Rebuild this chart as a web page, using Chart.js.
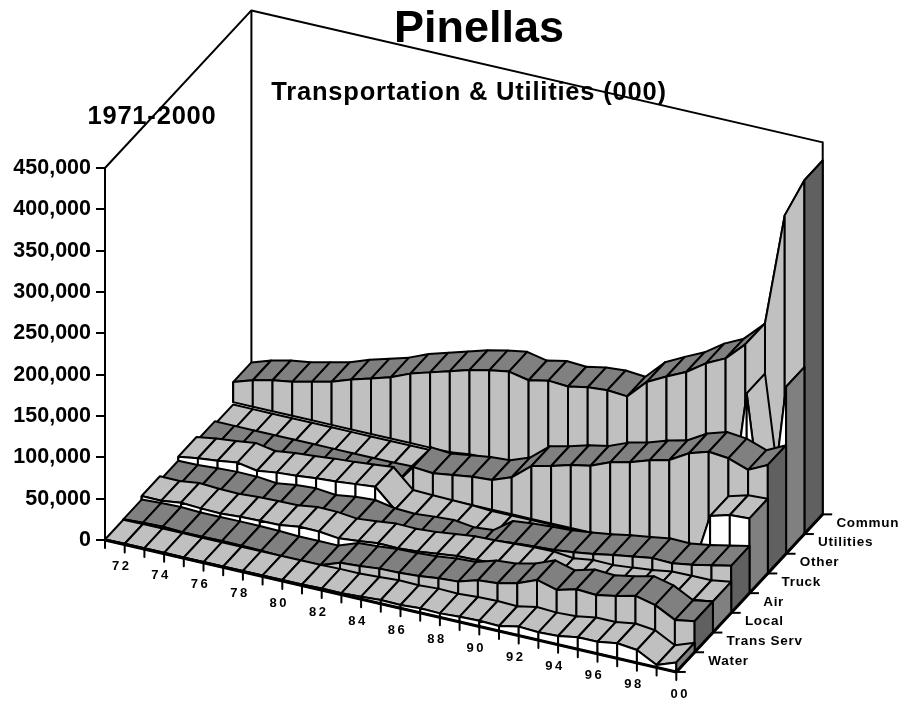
<!DOCTYPE html>
<html>
<head>
<meta charset="utf-8">
<title>Pinellas</title>
<script src="https://cdn.jsdelivr.net/npm/chart.js@4/dist/chart.umd.min.js"></script>
<style>
body { margin: 0; background: #fff; }
canvas { display: block; }
</style>
</head>
<body>
<canvas id="myChart" width="903" height="707"></canvas>
<script>
var years = ['71','72','73','74','75','76','77','78','79','80','81','82','83','84','85','86','87','88','89','90','91','92','93','94','95','96','97','98','99','00'];
var categories = ['Water','Trans Serv','Local','Air','Truck','Other','Utilities','Commun'];
var yTicks = [0,50000,100000,150000,200000,250000,300000,350000,400000,450000];

var water = [600,1000,1200,1000,800,800,1000,1200,1200,1200,1200,1800,1800,3000,4500,3900,5400,4800,6300,7000,6100,10800,9400,10500,14500,14500,18200,15600,2900,11500];
var transServ = [1200,2700,3300,2100,2200,2400,2300,1800,600,600,600,9300,10900,13100,13700,15200,17900,19400,26600,28400,33900,43400,36800,43200,41700,46000,51700,46000,33600,37500];
var local = [5600,5400,8500,7100,6500,8000,8700,9100,12500,12100,9400,11600,14400,13800,15400,18200,21000,21800,23000,24200,24600,22100,25400,25000,27200,29900,33400,33900,33900,37500];
var air = [600,1000,2400,3600,3300,800,4200,5700,3100,6400,8100,3600,2400,4500,6000,2800,4800,21300,23700,25200,26600,29400,32700,37100,40500,44200,43600,47200,52000,56900];
var truck = [5400,9100,11600,14800,10500,13700,15500,17800,19400,21800,24200,1800,1000,500,0,-1500,-1500,-1500,-1500,-1500,-1500,-1500,1200,1200,1200,1200,4200,82300,89100,90400];
var other = [600,600,600,600,600,600,600,600,600,600,1200,29600,27600,31000,34500,36000,44800,63900,69500,76200,80800,90400,96000,104000,109700,123400,130700,128300,119800,131300];
var utilities = [-3000,-3000,-3000,-3000,-3000,-3000,-3000,-3000,-3000,-3000,-3000,0,3000,3500,6000,10000,12000,12000,12000,12000,12000,12000,12000,12000,12000,12000,3000,183000,2000,202000];
var commun = [24200,32000,37500,41000,46500,52000,60500,67000,74000,84000,91000,98000,105000,110000,114000,109000,114000,112500,117000,119000,117000,140000,152000,163000,179000,190500,213000,244000,380000,428000];
var seriesValues = [water,transServ,local,air,truck,other,utilities,commun];

// oblique axes: year runs right and down, category runs right and up
var DEPTH_X = 0.929;
var DEPTH_Y = 23830;
var YEAR_DROP = 5504;
var fontName = '"Liberation Sans", Arial, sans-serif';

function project(i, s, v) {
    return { x: i + s * DEPTH_X, y: v + s * DEPTH_Y - i * YEAR_DROP };
}

function shape(points, color, width) {
    return {
        data: points.concat(color ? [points[0]] : []),
        showLine: true,
        fill: color ? 'shape' : false,
        backgroundColor: color || 'transparent',
        borderColor: '#000',
        borderWidth: width || 2,
        borderJoinStyle: 'round',
        pointRadius: 0,
        clip: false
    };
}

// painter's order, back ribbon first
var painted = [];
var last = years.length - 1;

painted.push(shape([project(0,0,0), project(0,0,450000), project(0,8,450000), project(last,8,450000), project(last,8,0)], null, 2));
painted.push(shape([project(0,8,0), project(0,8,450000)], null, 2));

for (var s = categories.length - 1; s >= 0; s--) {
    var vals = seriesValues[s];
    var darkTop = (s % 2 == 1);
    var topColor = darkTop ? '#808080' : '#c0c0c0';
    var wallColor = darkTop ? '#c0c0c0' : '#ffffff';
    var capColor = darkTop ? '#606060' : '#808080';
    for (var i = 0; i < last; i++) {
        painted.push(shape([project(i,s,vals[i]), project(i+1,s,vals[i+1]), project(i+1,s+1,vals[i+1]), project(i,s+1,vals[i])], topColor));
    }
    for (var i = 0; i < last; i++) {
        if (vals[i] > 0 || vals[i+1] > 0) {
            painted.push(shape([project(i,s,Math.max(vals[i],0)), project(i+1,s,Math.max(vals[i+1],0)), project(i+1,s,0), project(i,s,0)], wallColor));
        }
    }
    painted.push(shape([project(0,s,Math.max(vals[0],0)), project(0,s,0)], null));
    painted.push(shape([project(last,s,vals[last]), project(last,s+1,vals[last]), project(last,s+1,0), project(last,s,0)], capColor));
}

painted.push(shape([project(0,0,0), project(last,0,0), project(last,8,0)], null, 3));
for (var i = 0; i <= last; i++) {
    painted.push(shape([project(i,0,0), project(i,0,-9700)], null));
}
for (var s = 0; s <= categories.length; s++) {
    var p = project(last,s,0);
    painted.push(shape([p, { x: p.x + 0.48, y: p.y }], null));
}

var labelPlugin = {
    id: 'labelPlugin',
    afterDraw: function(chart) {
        var ctx = chart.ctx;
        var xs = chart.scales.x, ys = chart.scales.y;
        function px(p) { return { x: xs.getPixelForValue(p.x), y: ys.getPixelForValue(p.y) }; }
        ctx.save();
        ctx.fillStyle = '#000';
        ctx.textBaseline = 'middle';

        ctx.textAlign = 'center';
        ctx.font = 'bold 45px ' + fontName;
        ctx.fillText('Pinellas', 479, 30);
        ctx.font = 'bold 25.5px ' + fontName;
        ctx.letterSpacing = '0.8px';
        ctx.fillText('1971-2000', 152, 117);
        ctx.fillText('Transportation & Utilities (000)', 469, 93);

        ctx.font = 'bold 13px ' + fontName;
        ctx.letterSpacing = '2.5px';
        for (var i = 1; i <= last; i += 2) {
            var a = px(project(i,0,0));
            ctx.fillText(years[i], a.x + (i == last ? 4 : -3), a.y + 22);
        }
        ctx.font = 'bold 13.5px ' + fontName;
        ctx.letterSpacing = '0.7px';
        ctx.textAlign = 'left';
        for (var s = 0; s < categories.length; s++) {
            var b = px(project(last,s,0));
            ctx.fillText(categories[s], b.x + 32, b.y - 11);
        }
        ctx.restore();
    }
};

document.addEventListener("DOMContentLoaded", function(){
    var ctx = document.getElementById('myChart').getContext('2d');
    var chart = new Chart(ctx, {
        type: 'scatter',
        data: { datasets: painted.slice().reverse() },
        plugins: [labelPlugin],
        options: {
            responsive: false,
            animation: false,
            events: [],
            layout: { padding: 0 },
            plugins: { legend: { display: false }, tooltip: { enabled: false } },
            scales: {
                x: { type: 'linear', display: false, min: 0, max: 798 / 19.7 },
                y: {
                    type: 'linear',
                    min: -202016,
                    max: 653226,
                    afterFit: function(scale) {
                        scale.width = 105;
                        scale.paddingTop = 0;
                        scale.paddingBottom = 0;
                    },
                    afterBuildTicks: function(scale) {
                        scale.ticks = yTicks.map(function(v) { return { value: v }; });
                    },
                    border: { display: false },
                    grid: { drawOnChartArea: false, drawTicks: true, tickLength: 9, color: '#000', lineWidth: 2 },
                    ticks: {
                        autoSkip: false,
                        color: '#000',
                        padding: 5,
                        font: { family: fontName, size: 21.5, weight: 'bold' },
                        callback: function(v) { return v.toLocaleString('en-US'); }
                    }
                }
            }
        }
    });
});
</script>
</body>
</html>
